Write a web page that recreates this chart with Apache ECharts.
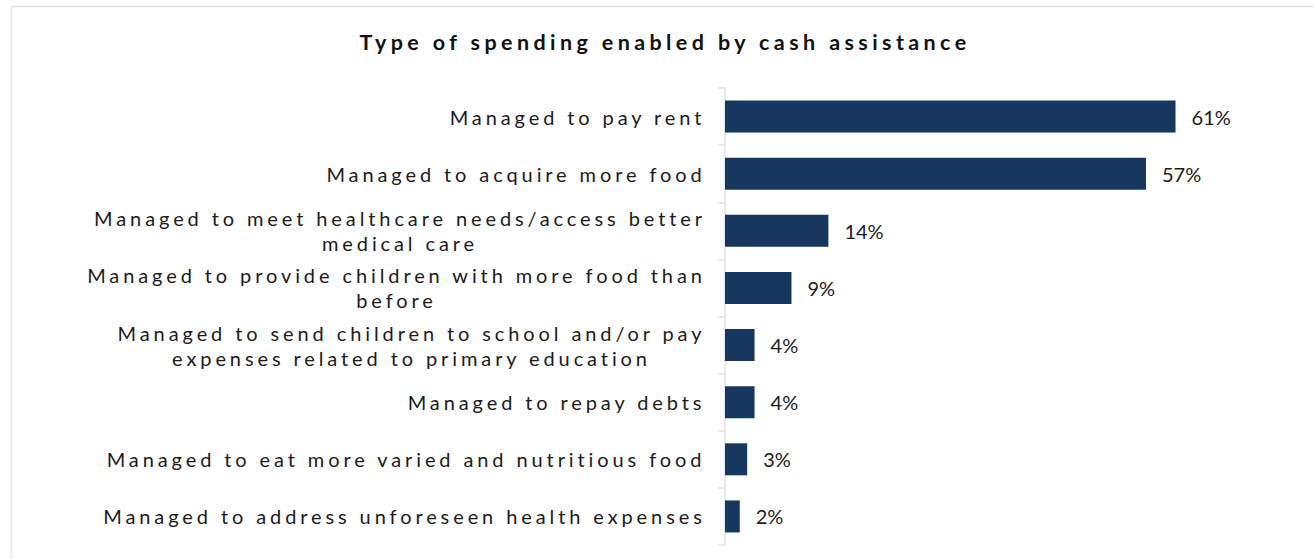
<!DOCTYPE html>
<html>
<head>
<meta charset="utf-8">
<script src="https://cdn.jsdelivr.net/npm/echarts@6/dist/echarts.min.js"></script>
<style>
  html, body { margin: 0; padding: 0; background: #fff; }
  #chart { width: 1314px; height: 559px; }
</style>
</head>
<body>
<div id="chart"></div>
<script>
// Spending categories, top to bottom; '\n' marks where a label wraps
const categories = [
  'Managed to pay rent',
  'Managed to acquire more food',
  'Managed to meet healthcare needs/access better\nmedical care',
  'Managed to provide children with more food than\nbefore',
  'Managed to send children to school and/or pay\nexpenses related to primary education',
  'Managed to repay debts',
  'Managed to eat more varied and nutritious food',
  'Managed to address unforeseen health expenses'
];
// Share of respondents (%)
const shares = [61, 57, 14, 9, 4, 4, 3, 2];
const titleText = 'Type of spending enabled by cash assistance';

const FONT = 'Lato, "Noto Sans", sans-serif';
const LABEL_SIZE = 20;
const LABEL_SPACING = 3.9;
const TITLE_SIZE = 21.5;
const TITLE_SPACING = 4.4;
const TEXT_COLOR = '#1b1b1b';
const BAR_COLOR = '#17375e';

// measure a line the way it is drawn (with letter spacing)
const mctx = document.createElement('canvas').getContext('2d');
function lineWidth(txt, size, spacing, weight) {
  mctx.font = (weight || 'normal') + ' ' + size + 'px ' + FONT;
  mctx.letterSpacing = spacing + 'px';
  return mctx.measureText(txt).width;
}

// one rich style per label so wrapped lines centre under the longest line
const rich = {};
const labelLines = new Set();
categories.forEach((c, i) => {
  const lines = c.split('\n');
  lines.forEach(l => labelLines.add(l));
  const w = Math.max(...lines.map(l => lineWidth(l, LABEL_SIZE, LABEL_SPACING)));
  rich['c' + i] = {
    width: Math.ceil(w),
    align: 'center',
    fontSize: LABEL_SIZE,
    fontFamily: FONT,
    color: TEXT_COLOR,
    lineHeight: 25
  };
});

const chart = echarts.init(document.getElementById('chart'), null, { renderer: 'svg' });

chart.setOption({
  animation: false,
  graphic: [
    {
      type: 'rect',
      silent: true,
      shape: { x: 11.5, y: 6.5, width: 1330, height: 600 },
      style: { fill: 'none', stroke: '#e3e6ea', lineWidth: 1.5 },
      z: -10
    },
    {
      type: 'text',
      x: 665,
      y: 42,
      style: {
        text: titleText,
        font: 'bold ' + TITLE_SIZE + 'px ' + FONT,
        fill: '#111',
        textAlign: 'center',
        textVerticalAlign: 'middle'
      }
    }
  ],
  grid: { left: 725, right: 72, top: 88, bottom: 14, containLabel: false },
  xAxis: {
    type: 'value',
    min: 0,
    max: 70,
    show: false
  },
  yAxis: {
    type: 'category',
    inverse: true,
    data: categories,
    axisLine: { show: true, lineStyle: { color: '#dfe3e8', width: 1.5 } },
    axisTick: { show: true, length: 7, lineStyle: { color: '#dfe3e8', width: 1.5 } },
    axisLabel: {
      margin: 19,
      formatter: (v, i) => v.split('\n').map(l => '{c' + i + '|' + l + '}').join('\n'),
      rich: rich
    }
  },
  series: [{
    type: 'bar',
    data: shares,
    barWidth: 32,
    itemStyle: { color: BAR_COLOR },
    label: {
      show: true,
      position: 'right',
      distance: 16,
      formatter: p => p.value + '%',
      fontSize: 20,
      fontFamily: FONT,
      color: TEXT_COLOR
    }
  }]
});

// letter spacing for the axis labels and the title
function applySpacing() {
  document.querySelectorAll('#chart text').forEach(t => {
    const s = t.textContent;
    if (labelLines.has(s)) t.setAttribute('letter-spacing', LABEL_SPACING + 'px');
    else if (s === titleText) t.setAttribute('letter-spacing', TITLE_SPACING + 'px');
  });
}
applySpacing();
chart.on('finished', applySpacing);
requestAnimationFrame(applySpacing);
</script>
</body>
</html>
